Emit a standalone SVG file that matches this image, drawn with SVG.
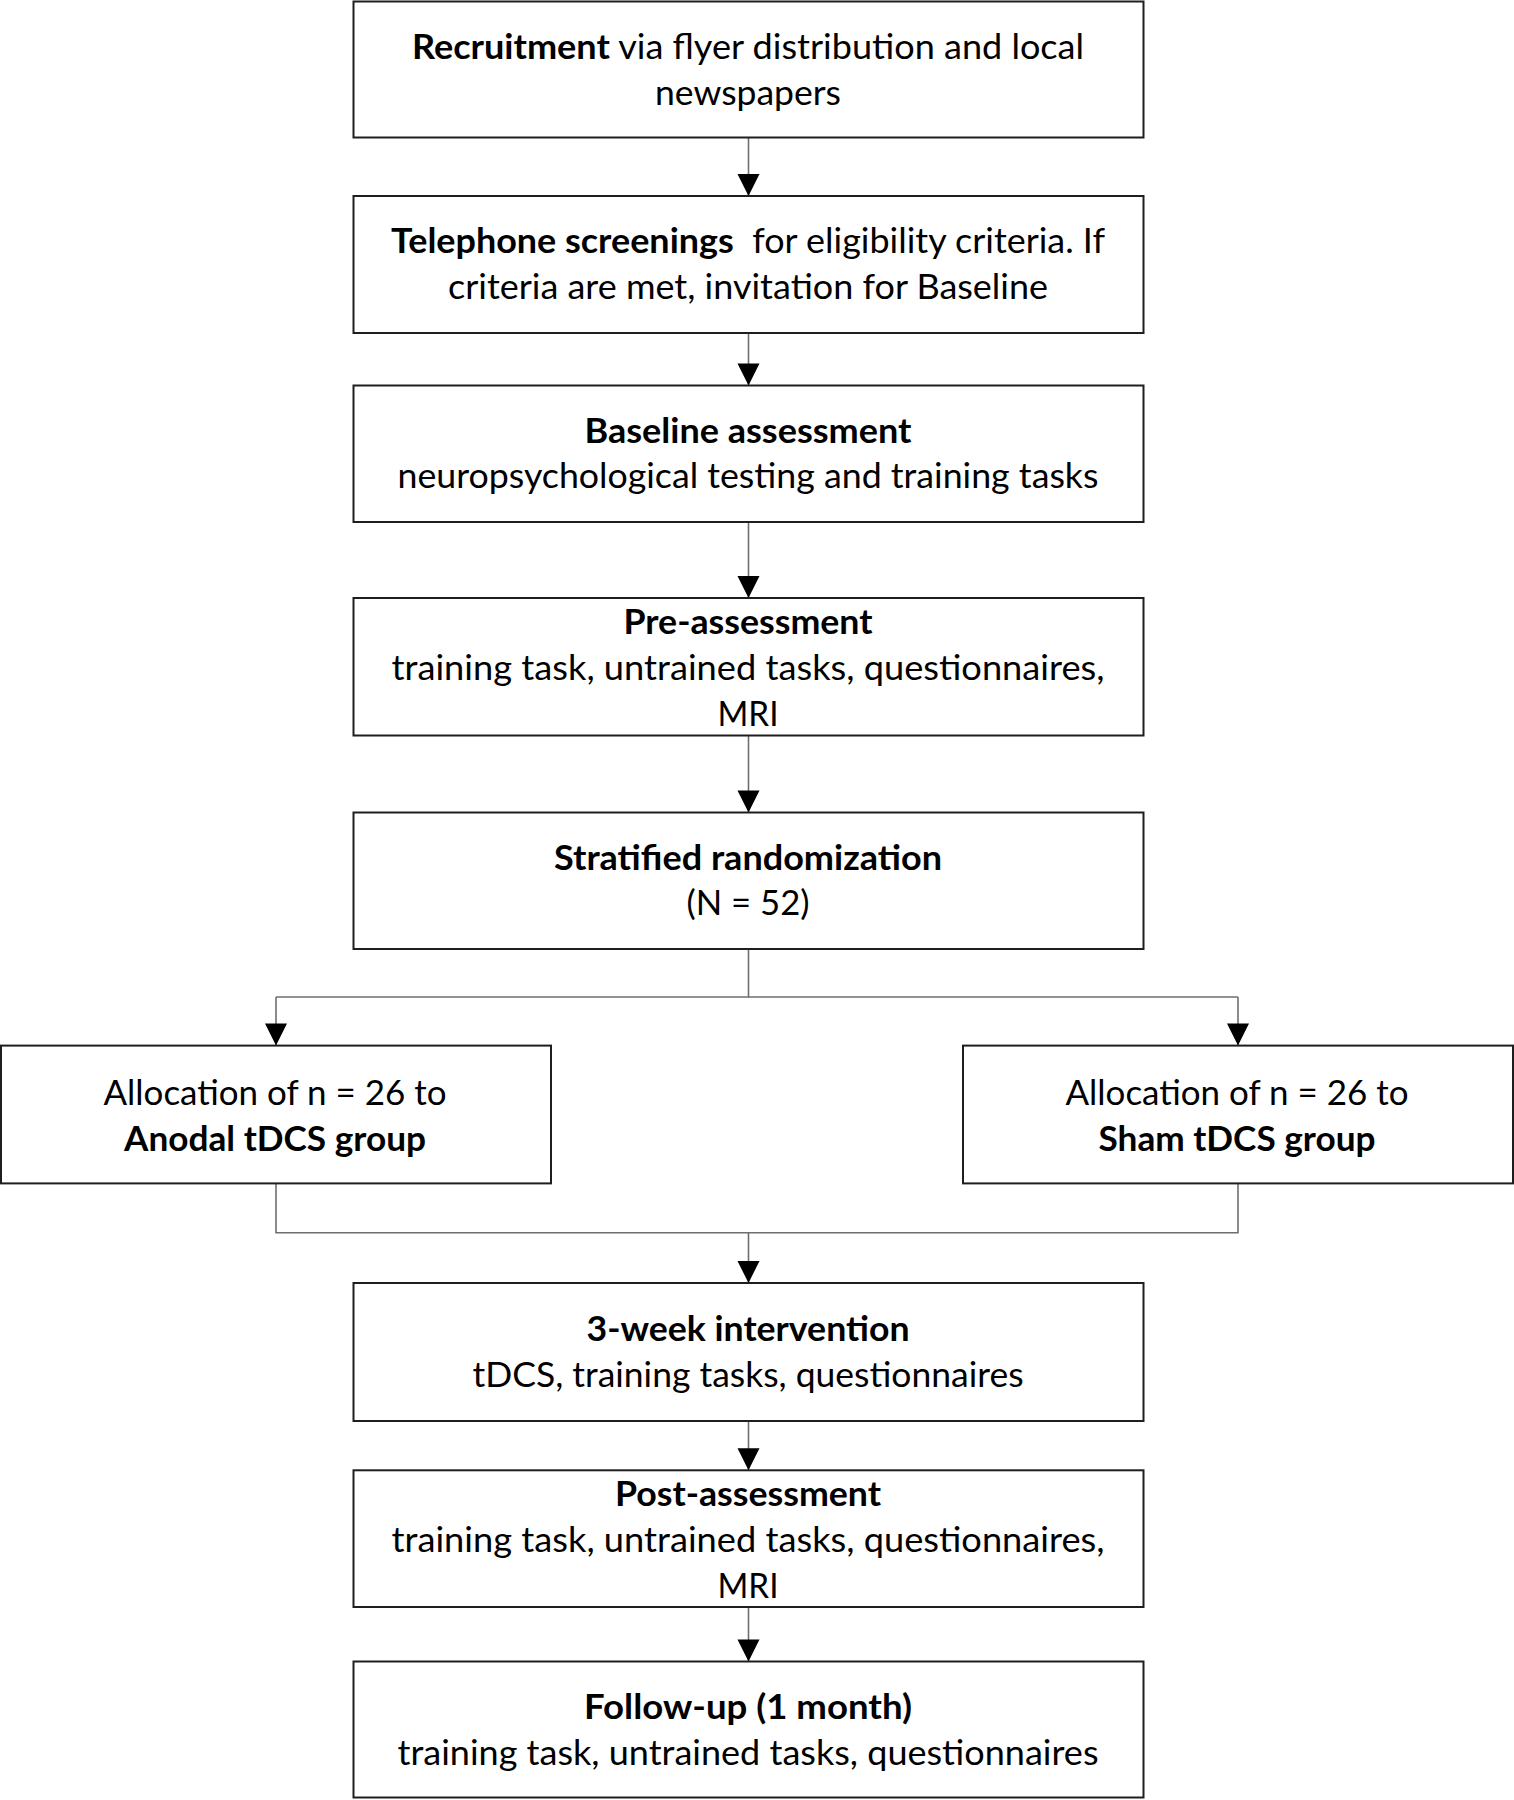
<svg xmlns="http://www.w3.org/2000/svg" width="1514" height="1800" viewBox="0 0 1514 1800">
<style>
.box{fill:#fff;stroke:#1e1e1e;stroke-width:2}
.t{font-family:Lato,"Open Sans","Liberation Sans",sans-serif;font-size:34px;fill:#000;text-anchor:middle}
.b{font-weight:bold}
.c{fill:none;stroke:#6e6e6e;stroke-width:1.6}
</style>
<defs>
<marker id="ah" markerUnits="userSpaceOnUse" markerWidth="24" markerHeight="24" viewBox="0 0 24 24" refX="23" refY="12" orient="auto">
<path d="M1,1 L23,12 L1,23 Z" fill="#000"/>
</marker>
</defs>
<rect width="1514" height="1800" fill="#fff"/>
<g id="connectors">
<line class="c" x1="748.5" y1="137.5" x2="748.5" y2="196" marker-end="url(#ah)"/>
<line class="c" x1="748.5" y1="333" x2="748.5" y2="385.5" marker-end="url(#ah)"/>
<line class="c" x1="748.5" y1="522" x2="748.5" y2="598" marker-end="url(#ah)"/>
<line class="c" x1="748.5" y1="735.5" x2="748.5" y2="812.5" marker-end="url(#ah)"/>
<polyline class="c" points="748.5,949 748.5,997 276,997"/>
<line class="c" x1="748.5" y1="997" x2="1238" y2="997"/>
<line class="c" x1="276" y1="997" x2="276" y2="1045.6" marker-end="url(#ah)"/>
<line class="c" x1="1238" y1="997" x2="1238" y2="1045.6" marker-end="url(#ah)"/>
<polyline class="c" points="276,1183.4 276,1232.7 1238,1232.7 1238,1183.4"/>
<line class="c" x1="748.5" y1="1232.7" x2="748.5" y2="1283" marker-end="url(#ah)"/>
<line class="c" x1="748.5" y1="1421" x2="748.5" y2="1470.3" marker-end="url(#ah)"/>
<line class="c" x1="748.5" y1="1607" x2="748.5" y2="1661.5" marker-end="url(#ah)"/>
</g>
<g id="recruitment">
<rect class="box" x="353.5" y="1.5" width="790" height="136"/>
<text class="t" x="748" y="59" textLength="672" lengthAdjust="spacingAndGlyphs"><tspan class="b">Recruitment</tspan> via flyer distribution and local</text>
<text class="t" x="748" y="105" textLength="186" lengthAdjust="spacingAndGlyphs">newspapers</text>
</g>
<g id="telephone">
<rect class="box" x="353.5" y="196" width="790" height="137"/>
<text class="t" x="748" y="253" textLength="714" lengthAdjust="spacingAndGlyphs" xml:space="preserve"><tspan class="b">Telephone screenings</tspan>  for eligibility criteria. If</text>
<text class="t" x="748" y="299" textLength="600" lengthAdjust="spacingAndGlyphs">criteria are met, invitation for Baseline</text>
</g>
<g id="baseline">
<rect class="box" x="353.5" y="385.5" width="790" height="136.5"/>
<text class="t b" x="748" y="442.5" textLength="327" lengthAdjust="spacingAndGlyphs">Baseline assessment</text>
<text class="t" x="748" y="488" textLength="701" lengthAdjust="spacingAndGlyphs">neuropsychological testing and training tasks</text>
</g>
<g id="pre">
<rect class="box" x="353.5" y="598" width="790" height="137.5"/>
<text class="t b" x="748" y="634" textLength="249" lengthAdjust="spacingAndGlyphs">Pre-assessment</text>
<text class="t" x="748" y="680" textLength="713" lengthAdjust="spacingAndGlyphs">training task, untrained tasks, questionnaires,</text>
<text class="t" x="748" y="726" textLength="61" lengthAdjust="spacingAndGlyphs">MRI</text>
</g>
<g id="randomization">
<rect class="box" x="353.5" y="812.5" width="790" height="136.5"/>
<text class="t b" x="748" y="869.5" textLength="388" lengthAdjust="spacingAndGlyphs">Stratified randomization</text>
<text class="t" x="748" y="915" textLength="123" lengthAdjust="spacingAndGlyphs">(N = 52)</text>
</g>
<g id="anodal">
<rect class="box" x="1" y="1045.6" width="550" height="137.8"/>
<text class="t" x="275" y="1104.5" textLength="343" lengthAdjust="spacingAndGlyphs">Allocation of n = 26 to</text>
<text class="t b" x="275" y="1150.5" textLength="302" lengthAdjust="spacingAndGlyphs">Anodal tDCS group</text>
</g>
<g id="sham">
<rect class="box" x="963" y="1045.6" width="550" height="137.8"/>
<text class="t" x="1237" y="1104.5" textLength="343" lengthAdjust="spacingAndGlyphs">Allocation of n = 26 to</text>
<text class="t b" x="1237" y="1150.5" textLength="277" lengthAdjust="spacingAndGlyphs">Sham tDCS group</text>
</g>
<g id="intervention">
<rect class="box" x="353.5" y="1283" width="790" height="138"/>
<text class="t b" x="748" y="1341" textLength="323" lengthAdjust="spacingAndGlyphs">3-week intervention</text>
<text class="t" x="748" y="1387" textLength="551" lengthAdjust="spacingAndGlyphs">tDCS, training tasks, questionnaires</text>
</g>
<g id="post">
<rect class="box" x="353.5" y="1470.3" width="790" height="136.7"/>
<text class="t b" x="748" y="1506" textLength="266" lengthAdjust="spacingAndGlyphs">Post-assessment</text>
<text class="t" x="748" y="1552" textLength="713" lengthAdjust="spacingAndGlyphs">training task, untrained tasks, questionnaires,</text>
<text class="t" x="748" y="1598" textLength="61" lengthAdjust="spacingAndGlyphs">MRI</text>
</g>
<g id="followup">
<rect class="box" x="353.5" y="1661.5" width="790" height="136"/>
<text class="t b" x="748" y="1718.5" textLength="328" lengthAdjust="spacingAndGlyphs">Follow-up (1 month)</text>
<text class="t" x="748" y="1764.5" textLength="701" lengthAdjust="spacingAndGlyphs">training task, untrained tasks, questionnaires</text>
</g>
</svg>
